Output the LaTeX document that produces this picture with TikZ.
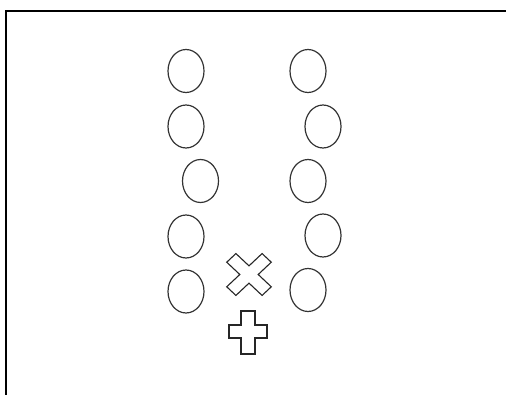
\documentclass[tikz,border=0pt]{standalone}
\usetikzlibrary{shapes.geometric}

\tikzset{
    seat/.style={draw=black!80, line width=1.2pt, ellipse, inner sep=0pt,
        minimum width=36pt, minimum height=43pt},
    mark shape/.style={draw=black!85, line width=1.1pt, line join=miter},
}

\begin{document}
\begin{tikzpicture}[x=1pt, y=-1pt]
    \useasboundingbox (0,0) rectangle (506,395);

    % frame, running off to the right and bottom
    \draw[line width=1.5pt] (6,395) -- (6,11) -- (506,11);

    % left column
    \node[seat] (l1) at (186,71) {};
    \node[seat] (l2) at (186,126.5) {};
    \node[seat] (l3) at (200.5,181) {};
    \node[seat] (l4) at (186,236.5) {};
    \node[seat] (l5) at (186,291.5) {};

    % right column
    \node[seat] (r1) at (308,71) {};
    \node[seat] (r2) at (323,126.5) {};
    \node[seat] (r3) at (308,181) {};
    \node[seat] (r4) at (323,235.5) {};
    \node[seat] (r5) at (308,290) {};

    % tilted cross
    \begin{scope}[shift={(249,274.5)}, yscale=0.94, rotate=45]
        \draw[mark shape] (-6.5,-25) -- (6.5,-25) -- (6.5,-6.5) -- (25,-6.5)
            -- (25,6.5) -- (6.5,6.5) -- (6.5,25) -- (-6.5,25) -- (-6.5,6.5)
            -- (-25,6.5) -- (-25,-6.5) -- (-6.5,-6.5) -- cycle;
    \end{scope}

    % upright cross
    \draw[mark shape] (241,311) -- (255,311) -- (255,325) -- (267,325)
        -- (267,338) -- (255,338) -- (255,354) -- (241,354) -- (241,338)
        -- (229,338) -- (229,325) -- (241,325) -- cycle;
\end{tikzpicture}
\end{document}
